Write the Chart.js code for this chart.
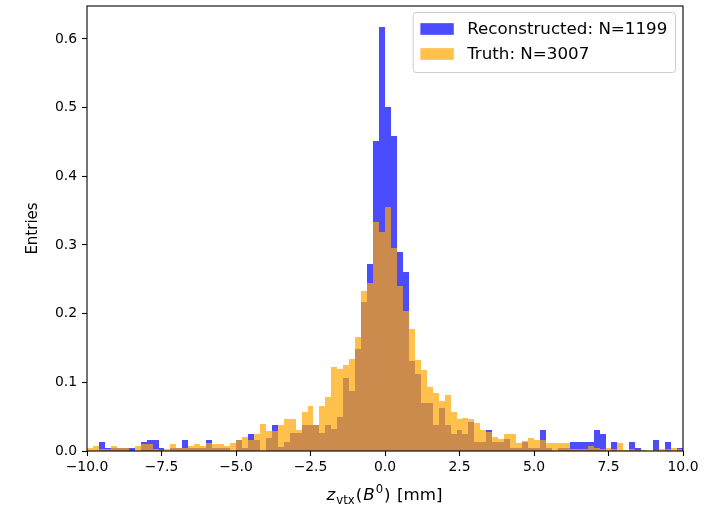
<!DOCTYPE html>
<html>
<head>
<meta charset="utf-8">
<script src="https://cdn.jsdelivr.net/npm/chart.js@4.4.1/dist/chart.umd.min.js"></script>
<style>
  html, body { margin: 0; padding: 0; background: #fff; }
  #wrap { width: 716px; height: 510px; }
</style>
</head>
<body>
<div id="wrap"><canvas id="hist" width="716" height="510"></canvas></div>
<script>
// histogram bins: 100 bins of 0.2 mm between -10 and 10 (density normalised)
const binLow = -10;
const binWidth = 0.2;

const recoLabel = 'Reconstructed: N=1199';
const truthLabel = 'Truth: N=3007';

const recoValues = [
  0, 0, 0.0125, 0.0042, 0.0042, 0.0042, 0.0042, 0.0042, 0, 0.0125,
  0.0167, 0.0167, 0.0042, 0, 0.0042, 0.0042, 0.0167, 0.0042, 0.0042, 0.0042,
  0.0167, 0.0042, 0.0042, 0.0042, 0, 0.0167, 0.0042, 0.025, 0.0167, 0,
  0.0188, 0.0375, 0.0063, 0.0125, 0.0258, 0.0258, 0.038, 0.038, 0.038, 0.0258,
  0.038, 0.0317, 0.05, 0.107, 0.0876, 0.148, 0.2165, 0.273, 0.452, 0.617,
  0.501, 0.458, 0.2905, 0.261, 0.131, 0.112, 0.0696, 0.0696, 0.038, 0.062,
  0.038, 0.025, 0.03, 0.025, 0.042, 0.013, 0.013, 0.03, 0.013, 0.013,
  0.018, 0.0042, 0.0042, 0.0125, 0.0042, 0.0042, 0.03, 0.0042, 0, 0.0042,
  0.0042, 0.0125, 0.0125, 0.0125, 0.0125, 0.03, 0.025, 0, 0.0125, 0,
  0, 0.0125, 0.0042, 0, 0, 0.0167, 0, 0.0125, 0, 0.0042
];

const truthValues = [
  0.0044, 0.0078, 0.0033, 0.0033, 0.0066, 0.005, 0.005, 0, 0.0078, 0.01,
  0.0097, 0.0033, 0.0017, 0.0033, 0.0097, 0.005, 0.005, 0.0078, 0.0107, 0.0078,
  0.0117, 0.0107, 0.0097, 0.0078, 0.0117, 0.0156, 0.0204, 0.0165, 0.0253, 0.0399,
  0.0292, 0.029, 0.038, 0.0467, 0.0467, 0.0306, 0.0574, 0.0657, 0.038, 0.0662,
  0.078, 0.122, 0.1197, 0.1255, 0.134, 0.166, 0.2326, 0.245, 0.333, 0.319,
  0.355, 0.296, 0.24, 0.204, 0.178, 0.133, 0.118, 0.0925, 0.085, 0.073,
  0.081, 0.057, 0.047, 0.048, 0.046, 0.041, 0.03, 0.027, 0.021, 0.018,
  0.025, 0.025, 0.011, 0.014, 0.019, 0.016, 0.016, 0.011, 0.012, 0.011,
  0.012, 0.003, 0.003, 0.003, 0.0078, 0.005, 0.003, 0.005, 0.003, 0.011,
  0.0017, 0.003, 0.0017, 0.0017, 0, 0.0017, 0.003, 0.003, 0.005, 0.003
];

const xTicks = [-10, -7.5, -5, -2.5, 0, 2.5, 5, 7.5, 10];
const yTicks = [0, 0.1, 0.2, 0.3, 0.4, 0.5, 0.6];
const yMax = 0.648;

const FONT = 'DejaVu Sans';
const tickFont = { family: FONT, size: 13.9 };
const legendSize = 16.7;
const xTitleSize = 16.7;
const yTitleSize = 15;

const binCenters = recoValues.map((_, i) => binLow + binWidth * (i + 0.5));
const toPoints = (vals) => vals.map((v, i) => ({ x: binCenters[i], y: v }));
const fmt = (v) => (v < 0 ? '\u2212' : '') + Math.abs(v).toFixed(1);

// snap bar edges to whole pixels like matplotlib does, avoids light seams
const snapBars = {
  id: 'snapBars',
  afterDatasetsUpdate(chart) {
    chart.getSortedVisibleDatasetMetas().forEach((meta) => {
      meta.data.forEach((bar) => {
        const l = Math.round(bar.x - bar.width / 2);
        const r = Math.round(bar.x + bar.width / 2);
        bar.x = (l + r) / 2;
        bar.width = r - l;
        bar.y = Math.round(bar.y);
        bar.base = Math.round(bar.base);
      });
    });
  }
};

// axes frame, titles and the boxed legend
const decor = {
  id: 'decor',
  afterDraw(chart) {
    const { ctx, chartArea: a } = chart;
    ctx.save();

    ctx.strokeStyle = '#000';
    ctx.lineWidth = 1.1;
    ctx.strokeRect(a.left, a.top, a.right - a.left, a.bottom - a.top);

    // y title
    ctx.fillStyle = '#000';
    ctx.font = `${yTitleSize}px "${FONT}"`;
    ctx.textAlign = 'center';
    ctx.textBaseline = 'middle';
    ctx.save();
    ctx.translate(33, (a.top + a.bottom) / 2);
    ctx.rotate(-Math.PI / 2);
    ctx.fillText('Entries', 0, 0);
    ctx.restore();

    // x title: z_vtx(B^0) [mm]
    const s = xTitleSize, ss = xTitleSize * 0.7;
    const parts = [
      { t: 'z', f: `italic ${s}px "${FONT}"`, dy: 0 },
      { t: 'vtx', f: `${ss}px "${FONT}"`, dy: 3.5 },
      { t: '(', f: `${s}px "${FONT}"`, dy: 0 },
      { t: 'B', f: `italic ${s}px "${FONT}"`, dy: 0 },
      { t: '0', f: `${ss}px "${FONT}"`, dy: -7 },
      { t: ')', f: `${s}px "${FONT}"`, dy: 0 },
      { t: ' [mm]', f: `${s}px "${FONT}"`, dy: 0 }
    ];
    ctx.textAlign = 'left';
    ctx.textBaseline = 'alphabetic';
    let total = 0;
    parts.forEach((p) => { ctx.font = p.f; p.w = ctx.measureText(p.t).width + 1; total += p.w; });
    let x = (a.left + a.right) / 2 - total / 2;
    const base = 500;
    parts.forEach((p) => { ctx.font = p.f; ctx.fillText(p.t, x, base + p.dy); x += p.w; });

    // legend
    const pad = 0.4 * legendSize;
    const hl = 2 * legendSize, hh = 0.7 * legendSize, gap = 0.8 * legendSize;
    ctx.font = `${legendSize}px "${FONT}"`;
    const tw = Math.max(...chart.data.datasets.map((d) => ctx.measureText(d.label).width));
    const bw = 2 * pad + hl + gap + tw + 2;
    const bh = 60;
    const bx = a.right - 8 - bw, by = a.top + 6;
    ctx.beginPath();
    ctx.roundRect(bx + 0.5, by + 0.5, bw, bh, 3);
    ctx.fillStyle = 'rgba(255,255,255,0.8)';
    ctx.fill();
    ctx.strokeStyle = '#cccccc';
    ctx.lineWidth = 1;
    ctx.stroke();

    ctx.textBaseline = 'middle';
    chart.data.datasets.forEach((ds, i) => {
      const cy = by + 17 + i * 25;
      ctx.fillStyle = ds.backgroundColor;
      ctx.fillRect(bx + pad + 1, cy - hh / 2, hl, hh);
      ctx.fillStyle = '#000';
      ctx.fillText(ds.label, bx + pad + 1 + hl + gap, cy + 1);
    });

    ctx.restore();
  }
};

new Chart(document.getElementById('hist'), {
  type: 'bar',
  data: {
    datasets: [
      { label: recoLabel, data: toPoints(recoValues), backgroundColor: 'rgba(0,0,255,0.7)', order: 2 },
      { label: truthLabel, data: toPoints(truthValues), backgroundColor: 'rgba(255,165,0,0.7)', order: 1 }
    ]
  },
  options: {
    responsive: false,
    animation: false,
    events: [],
    layout: { padding: { top: 6, right: 33, left: 0, bottom: 0 } },
    datasets: {
      bar: { grouped: false, barPercentage: 1, categoryPercentage: 1, borderWidth: 0, inflateAmount: 0 }
    },
    plugins: { legend: { display: false }, tooltip: { enabled: false } },
    scales: {
      x: {
        type: 'linear',
        min: -10,
        max: 10,
        offset: false,
        afterFit: (s) => { s.height = 59; s.paddingLeft = 0; s.paddingRight = 0; },
        afterBuildTicks: (s) => { s.ticks = xTicks.map((v) => ({ value: v })); },
        ticks: { callback: (v) => fmt(v), font: tickFont, color: '#000', padding: 3, maxRotation: 0, autoSkip: false },
        grid: { offset: false, drawOnChartArea: false, drawTicks: true, tickLength: 5, tickColor: '#000', tickWidth: 1.1 },
        border: { display: false }
      },
      y: {
        min: 0,
        max: yMax,
        afterFit: (s) => { s.width = 87; s.paddingTop = 0; s.paddingBottom = 0; },
        afterBuildTicks: (s) => { s.ticks = yTicks.map((v) => ({ value: v })); },
        ticks: { callback: (v) => v.toFixed(1), font: tickFont, color: '#000', padding: 5 },
        grid: { drawOnChartArea: false, drawTicks: true, tickLength: 5, tickColor: '#000', tickWidth: 1.1 },
        border: { display: false }
      }
    }
  },
  plugins: [snapBars, decor]
});
</script>
</body>
</html>
